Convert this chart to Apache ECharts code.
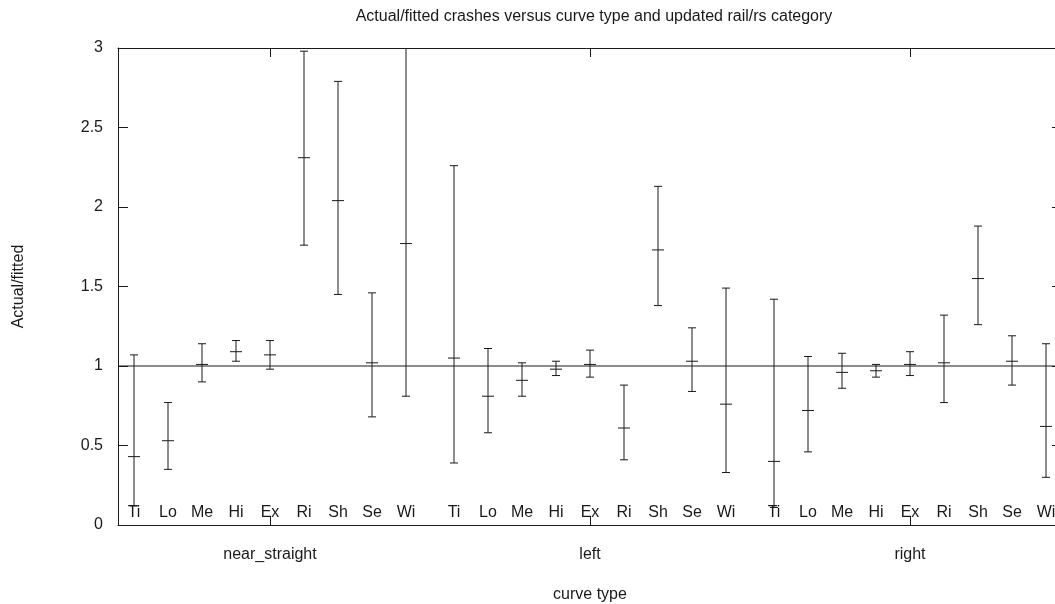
<!DOCTYPE html>
<html>
<head>
<meta charset="utf-8">
<script src="https://cdn.jsdelivr.net/npm/echarts@6/dist/echarts.min.js"></script>
<style>
  html, body { margin: 0; padding: 0; background: #fff; overflow: hidden; }
  #chart { width: 1055px; height: 604px; }
</style>
</head>
<body>
<div id="chart"></div>
<script>
// Curve types (major x groups) and updated rail/rs categories within each group
const curveTypes = ['near_straight', 'left', 'right'];
const railCategories = ['Ti', 'Lo', 'Me', 'Hi', 'Ex', 'Ri', 'Sh', 'Se', 'Wi'];
const yTicks = [0, 0.5, 1, 1.5, 2, 2.5, 3];

// Actual/fitted ratio with lower and upper interval bounds, per curve type
const nearStraightRatio = [0.43, 0.53, 1.01, 1.09, 1.07, 2.31, 2.04, 1.02, 1.77];
const nearStraightLower = [0.12, 0.35, 0.90, 1.03, 0.98, 1.76, 1.45, 0.68, 0.81];
const nearStraightUpper = [1.07, 0.77, 1.14, 1.16, 1.16, 2.98, 2.79, 1.46, 3.40];

const leftRatio = [1.05, 0.81, 0.91, 0.98, 1.01, 0.61, 1.73, 1.03, 0.76];
const leftLower = [0.39, 0.58, 0.81, 0.94, 0.93, 0.41, 1.38, 0.84, 0.33];
const leftUpper = [2.26, 1.11, 1.02, 1.03, 1.10, 0.88, 2.13, 1.24, 1.49];

const rightRatio = [0.40, 0.72, 0.96, 0.97, 1.01, 1.02, 1.55, 1.03, 0.62];
const rightLower = [0.11, 0.46, 0.86, 0.93, 0.94, 0.77, 1.26, 0.88, 0.30];
const rightUpper = [1.42, 1.06, 1.08, 1.01, 1.09, 1.32, 1.88, 1.19, 1.14];

const ratioByGroup = [nearStraightRatio, leftRatio, rightRatio];
const lowerByGroup = [nearStraightLower, leftLower, rightLower];
const upperByGroup = [nearStraightUpper, leftUpper, rightUpper];

// spacing of rail categories around each curve-type position on the x axis
const levelStep = 0.10625;

const barData = [];
const labelData = [];
curveTypes.forEach(function (ct, g) {
  railCategories.forEach(function (rc, k) {
    const x = g + (k - 4) * levelStep;
    barData.push([x, lowerByGroup[g][k], ratioByGroup[g][k], upperByGroup[g][k]]);
    labelData.push([x, 0, rc]);
  });
});

const FONT = 'Liberation Sans, Arial, sans-serif';
const INK = '#1a1a1a';
const FS = 16;

const chart = echarts.init(document.getElementById('chart'), null, { renderer: 'canvas' });

function errorBar(params, api) {
  const x = api.value(0);
  const pLo = api.coord([x, api.value(1)]);
  const pMid = api.coord([x, api.value(2)]);
  const pHi = api.coord([x, api.value(3)]);
  const cap = 4, tick = 6;
  const style = { stroke: INK, lineWidth: 1 };
  return {
    type: 'group',
    children: [
      { type: 'line', shape: { x1: pLo[0], y1: pLo[1], x2: pHi[0], y2: pHi[1] }, style: style },
      { type: 'line', shape: { x1: pLo[0] - cap, y1: pLo[1], x2: pLo[0] + cap, y2: pLo[1] }, style: style },
      { type: 'line', shape: { x1: pHi[0] - cap, y1: pHi[1], x2: pHi[0] + cap, y2: pHi[1] }, style: style },
      { type: 'line', shape: { x1: pMid[0] - tick, y1: pMid[1], x2: pMid[0] + tick, y2: pMid[1] }, style: style }
    ]
  };
}

function categoryLabel(params, api) {
  const p = api.coord([api.value(0), 0]);
  return {
    type: 'text',
    x: p[0],
    y: p[1] - 12,
    style: {
      text: railCategories[params.dataIndex % railCategories.length],
      fill: INK,
      font: FS + 'px ' + FONT,
      align: 'center',
      verticalAlign: 'middle'
    }
  };
}

// the plot frame runs a little past the right edge of the page
const xMin = -0.475, xMax = 2.475;

const axisLineStyle = { show: true, onZero: false, lineStyle: { color: INK, width: 1 } };

const option = {
  backgroundColor: '#ffffff',
  animation: false,
  title: {
    text: 'Actual/fitted crashes versus curve type and updated rail/rs category',
    left: 589,
    textAlign: 'center',
    top: 4,
    textStyle: { fontFamily: FONT, fontSize: FS, fontWeight: 'normal', color: INK }
  },
  grid: { left: 118, top: 48, width: 944, height: 477, outerBoundsMode: 'none', containLabel: false },
  xAxis: [
    {
      type: 'value',
      min: xMin,
      max: xMax,
      position: 'bottom',
      name: 'curve type',
      nameLocation: 'middle',
      nameGap: 62,
      nameTextStyle: { fontFamily: FONT, fontSize: FS, color: INK },
      axisLine: axisLineStyle,
      axisTick: { show: true, inside: true, length: 9, lineStyle: { color: INK }, customValues: [0, 1, 2] },
      axisLabel: {
        customValues: [0, 1, 2],
        formatter: function (v) { return curveTypes[Math.round(v)]; },
        margin: 22,
        fontFamily: FONT, fontSize: FS, color: INK
      },
      splitLine: { show: false }
    },
    {
      type: 'value',
      min: xMin,
      max: xMax,
      position: 'top',
      axisLine: axisLineStyle,
      axisTick: { show: true, inside: true, length: 9, lineStyle: { color: INK }, customValues: [0, 1, 2] },
      axisLabel: { show: false },
      splitLine: { show: false }
    }
  ],
  yAxis: [
    {
      type: 'value',
      min: 0,
      max: 3,
      interval: 0.5,
      position: 'left',
      name: 'Actual/fitted',
      nameLocation: 'middle',
      nameGap: 91,
      nameRotate: 90,
      nameTextStyle: { fontFamily: FONT, fontSize: FS, color: INK },
      axisLine: axisLineStyle,
      axisTick: { show: true, inside: true, length: 10, lineStyle: { color: INK } },
      axisLabel: {
        customValues: yTicks,
        margin: 15,
        padding: [7, 0, 0, 0],
        fontFamily: FONT, fontSize: FS, color: INK
      },
      splitLine: { show: false }
    },
    {
      type: 'value',
      min: 0,
      max: 3,
      interval: 0.5,
      position: 'right',
      axisLine: axisLineStyle,
      axisTick: { show: true, inside: true, length: 10, lineStyle: { color: INK } },
      axisLabel: { show: false },
      splitLine: { show: false }
    }
  ],
  series: [
    {
      name: 'reference',
      type: 'line',
      data: [[xMin, 1], [xMax, 1]],
      symbol: 'none',
      silent: true,
      lineStyle: { color: INK, width: 1 },
      z: 1
    },
    {
      name: 'Actual/fitted',
      type: 'custom',
      renderItem: errorBar,
      data: barData,
      encode: { x: 0, y: [1, 2, 3] },
      clip: true,
      silent: true,
      z: 2
    },
    {
      name: 'rail/rs category',
      type: 'custom',
      renderItem: categoryLabel,
      data: labelData,
      encode: { x: 0, y: 1 },
      silent: true,
      z: 3
    }
  ]
};

chart.setOption(option);
</script>
</body>
</html>
